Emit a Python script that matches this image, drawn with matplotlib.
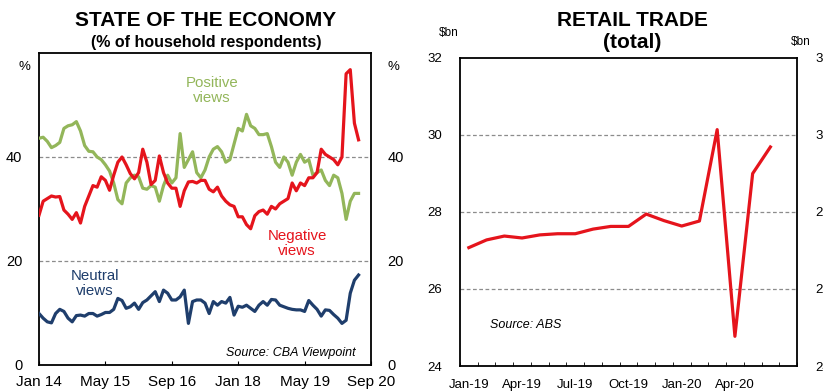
import matplotlib
matplotlib.use("Agg")
import matplotlib.pyplot as plt
import numpy as np

plt.rcParams['font.family'] = ['Liberation Sans', 'DejaVu Sans']

# ---- State of the economy (% of household respondents), monthly from Jan 14
positive = [43.6, 43.8, 43.0, 41.8, 42.2, 42.8, 45.5, 46.0, 46.2, 46.8,
            45.0, 42.2, 41.1, 41.0, 40.0, 39.5, 38.5, 37.3, 35.0, 31.8,
            31.0, 35.0, 36.0, 36.5, 36.2, 34.0, 33.8, 34.5, 34.2, 31.5,
            34.5, 36.5, 35.0, 36.0, 44.5, 38.0, 39.5, 41.0, 37.0, 36.0,
            37.5, 40.0, 41.5, 42.0, 41.0, 39.0, 39.5, 42.5, 45.5, 45.0,
            48.2, 46.0, 45.5, 44.3, 44.3, 44.5, 42.0, 39.0, 38.0, 40.0,
            39.0, 36.5, 39.0, 40.5, 39.0, 39.5, 36.5, 37.0, 37.5, 35.5,
            34.5, 36.5, 36.0, 33.0, 28.0, 31.5, 33.0, 33.0]
negative = [28.8, 31.5, 32.0, 32.5, 32.3, 32.4, 29.8, 29.0, 28.0, 29.3,
            27.3, 30.5, 32.5, 34.5, 34.2, 36.2, 35.5, 33.6, 36.5, 39.0,
            40.0, 38.5, 36.8, 35.8, 37.0, 41.5, 39.0, 34.7, 35.5, 40.2,
            37.0, 35.0, 34.0, 34.0, 30.5, 33.5, 35.2, 35.3, 35.0, 35.5,
            35.5, 33.8, 33.3, 34.2, 32.5, 31.5, 30.8, 30.5, 28.5, 28.5,
            27.0, 26.2, 28.7, 29.5, 29.8, 29.0, 30.5, 30.0, 31.0, 31.5,
            32.0, 35.0, 33.5, 35.0, 34.5, 36.0, 36.0, 37.0, 41.5, 40.5,
            40.0, 39.5, 38.5, 40.0, 56.0, 56.8, 46.5, 43.3]
neutral = [9.9, 9.0, 8.3, 8.1, 9.9, 10.7, 10.3, 9.0, 8.3, 9.5,
           9.6, 9.4, 9.9, 9.9, 9.4, 9.7, 10.1, 10.1, 10.7, 12.8,
           12.4, 10.9, 11.2, 11.9, 10.7, 12.0, 12.5, 13.3, 14.1, 12.2,
           14.4, 13.8, 12.5, 12.5, 13.1, 14.4, 8.0, 12.2, 12.5, 12.5,
           11.9, 9.9, 12.2, 11.5, 12.2, 11.9, 13.0, 9.6, 11.3, 11.1,
           11.5, 10.9, 10.3, 11.5, 12.2, 11.5, 12.6, 12.5, 11.5, 11.2,
           10.9, 10.7, 10.6, 10.6, 10.3, 12.4, 11.5, 10.7, 9.4, 10.6,
           10.5, 9.7, 9.0, 8.0, 8.6, 13.8, 16.3, 17.3]
econ_ticks = [0, 16, 32, 48, 64, 80]
econ_ticklabels = ["Jan 14", "May 15", "Sep 16", "Jan 18", "May 19", "Sep 20"]

# ---- Retail trade ($bn), monthly Jan-19 to Jun-20
retail = [27.07, 27.27, 27.37, 27.32, 27.40, 27.43, 27.43, 27.55, 27.62,
          27.62, 27.94, 27.77, 27.63, 27.76, 30.13, 24.77, 28.99, 29.68]
retail_ticklabels = ["Jan-19", "Apr-19", "Jul-19", "Oct-19", "Jan-20", "Apr-20"]

RED = "#e5141c"
GREEN = "#93b65a"
NAVY = "#1f3e6c"
GRID = dict(color="#8c8c8c", lw=0.9, ls=(0, (3, 2)))

fig = plt.figure(figsize=(8.23, 3.92), dpi=100)

# ================= left chart =================
ax1 = fig.add_axes([0.0474, 0.0689, 0.4034, 0.7959])
months = np.arange(len(positive))
for y in (20, 40):
    ax1.axhline(y, zorder=1, **GRID)
ax1.plot(months, neutral, color=NAVY, lw=2.3, zorder=3, solid_joinstyle="round")
ax1.plot(months, positive, color=GREEN, lw=2.3, zorder=3, solid_joinstyle="round")
ax1.plot(months, negative, color=RED, lw=2.3, zorder=4, solid_joinstyle="round")
ax1.set_xlim(0, 80)
ax1.set_ylim(0, 60)
ax1.set_yticks([0, 20, 40])
ax1.set_xticks(econ_ticks)
ax1.set_xticklabels(econ_ticklabels)
ax1.tick_params(axis="x", direction="in", length=3, pad=7, labelsize=11)
ax1.tick_params(axis="y", length=0, pad=12, labelsize=10.5,
                labelleft=True, labelright=True)
for s in ax1.spines.values():
    s.set_linewidth(1.3)

ax1.text(0.52, 0.88, "Positive\nviews", transform=ax1.transAxes, color=GREEN,
         ha="center", va="center", fontsize=10.8, linespacing=1.1)
ax1.text(0.777, 0.39, "Negative\nviews", transform=ax1.transAxes, color=RED,
         ha="center", va="center", fontsize=10.8, linespacing=1.1, zorder=2,
         bbox=dict(facecolor="white", edgecolor="none", pad=1))
ax1.text(0.168, 0.26, "Neutral\nviews", transform=ax1.transAxes, color=NAVY,
         ha="center", va="center", fontsize=10.8, linespacing=1.1)
ax1.text(0.955, 0.04, "Source: CBA Viewpoint", transform=ax1.transAxes,
         ha="right", va="center", fontsize=9, style="italic")

fig.text(206 / 823, 1 - 21 / 392, "STATE OF THE ECONOMY", ha="center",
         va="center", fontsize=15, fontweight="bold")
fig.text(206 / 823, 1 - 43 / 392, "(% of household respondents)", ha="center",
         va="center", fontsize=11.5, fontweight="bold")
fig.text(24 / 823, 1 - 67 / 392, "%", ha="center", va="center", fontsize=9.5)
fig.text(393 / 823, 1 - 67 / 392, "%", ha="center", va="center", fontsize=9.5)

# ================= right chart =================
ax2 = fig.add_axes([0.5589, 0.0663, 0.4095, 0.787])
slots = np.arange(len(retail))
for y in (26, 28, 30):
    ax2.axhline(y, zorder=1, **GRID)
ax2.plot(slots, retail, color=RED, lw=2.3, zorder=3, solid_joinstyle="round")
ax2.set_xlim(-0.5, len(retail) + 0.5)
ax2.set_ylim(24, 32)
ax2.set_yticks([24, 26, 28, 30, 32])
ax2.set_xticks(slots[::3])
ax2.set_xticklabels(retail_ticklabels)
ax2.set_xticks(np.arange(-0.5, len(retail) + 1), minor=True)
ax2.tick_params(axis="x", which="major", length=0, pad=9, labelsize=9.5)
ax2.tick_params(axis="x", which="minor", direction="in", length=3)
ax2.tick_params(axis="y", length=0, pad=13, labelsize=9.5,
                labelleft=True, labelright=True)
for s in ax2.spines.values():
    s.set_linewidth(1.3)

ax2.text(0.09, 0.134, "Source: ABS", transform=ax2.transAxes,
         ha="left", va="center", fontsize=9, style="italic")

fig.text(632 / 823, 1 - 20 / 392, "RETAIL TRADE", ha="center", va="center",
         fontsize=15, fontweight="bold")
fig.text(632 / 823, 1 - 43 / 392, "(total)", ha="center", va="center",
         fontsize=15, fontweight="bold")
fig.text(449 / 823, 1 - 33 / 392, "$bn", ha="center", va="center", fontsize=8.5)
fig.text(801 / 823, 1 - 42 / 392, "$bn", ha="center", va="center", fontsize=8.5)

fig.savefig("out.png", dpi=100)
